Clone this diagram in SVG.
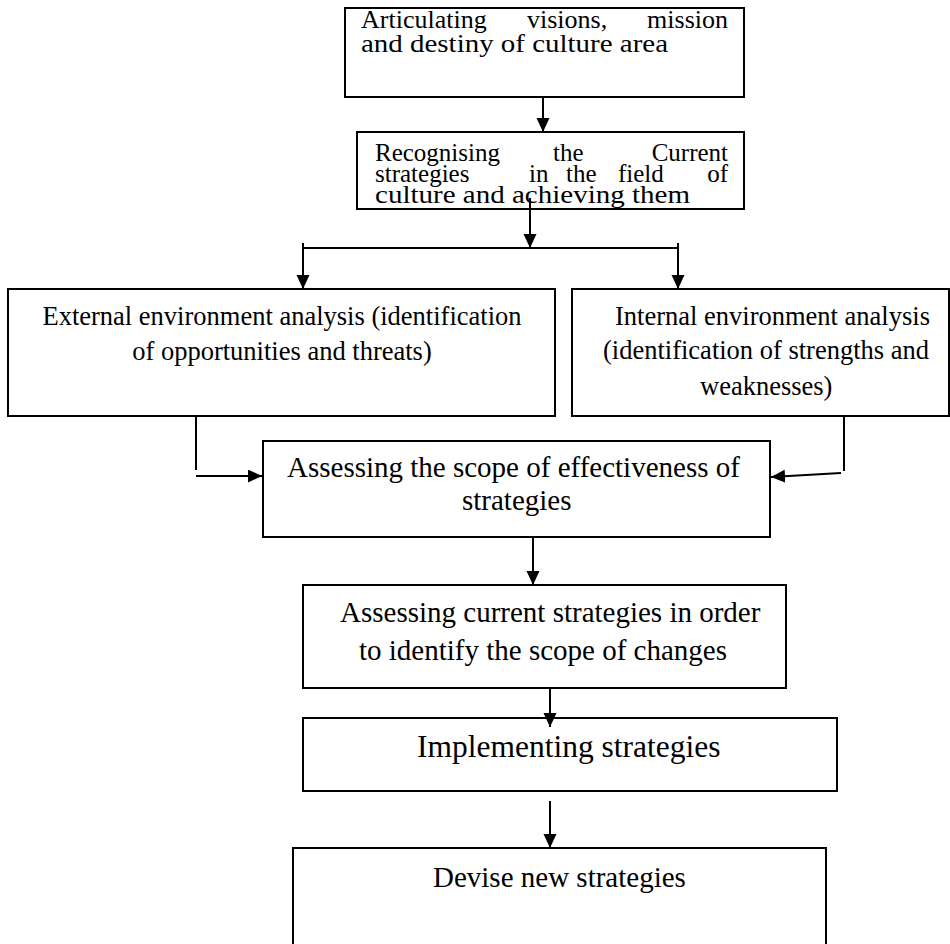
<svg xmlns="http://www.w3.org/2000/svg" width="950" height="944" viewBox="0 0 950 944">
<style>
.box{fill:#fff;stroke:#000;stroke-width:2}
.t{font-family:"Liberation Serif","Times New Roman",serif;fill:#000}
.c{fill:none;stroke:#000;stroke-width:2}
</style>
<defs>
<marker id="ah" markerUnits="userSpaceOnUse" markerWidth="15" markerHeight="14" refX="14" refY="6.5" orient="auto">
<path d="M0,0 L14,6.5 L0,13 z" fill="#000"/>
</marker>
</defs>
<rect width="950" height="944" fill="#fff"/>
<g id="n1">
<rect class="box" x="345" y="8" width="399" height="89"/>
<text class="t" font-size="26"><tspan x="361" y="28">Articulating</tspan><tspan x="527" y="28">visions,</tspan><tspan x="728" y="28" text-anchor="end">mission</tspan></text>
<text class="t" font-size="26" x="361" y="52" textLength="307" lengthAdjust="spacingAndGlyphs">and destiny of culture area</text>
</g>
<g id="n2">
<rect class="box" x="357" y="132" width="387" height="77"/>
<text class="t" font-size="25"><tspan x="375" y="161">Recognising</tspan><tspan x="553" y="161">the</tspan><tspan x="728" y="161" text-anchor="end">Current</tspan></text>
<text class="t" font-size="25"><tspan x="375" y="182">strategies</tspan><tspan x="529" y="182">in</tspan><tspan x="566" y="182">the</tspan><tspan x="618" y="182">field</tspan><tspan x="728" y="182" text-anchor="end">of</tspan></text>
<text class="t" font-size="25" x="375" y="203" textLength="315" lengthAdjust="spacingAndGlyphs">culture and achieving them</text>
</g>
<g id="n3">
<rect class="box" x="8" y="289" width="547" height="127"/>
<text class="t" font-size="26.5" text-anchor="middle"><tspan x="282" y="325">External environment analysis (identification</tspan><tspan x="282" y="360">of opportunities and threats)</tspan></text>
</g>
<g id="n4">
<rect class="box" x="572" y="289" width="377" height="127"/>
<text class="t" font-size="26.5"><tspan x="615" y="325">Internal environment analysis</tspan><tspan x="603" y="359">(identification of strengths and</tspan><tspan x="700" y="395">weaknesses)</tspan></text>
</g>
<g id="n5">
<rect class="box" x="263" y="441" width="507" height="96"/>
<text class="t" font-size="29"><tspan x="287" y="477">Assessing the scope of effectiveness of</tspan><tspan x="462" y="510">strategies</tspan></text>
</g>
<g id="n6">
<rect class="box" x="303" y="585" width="483" height="103"/>
<text class="t" font-size="29"><tspan x="340" y="622">Assessing current strategies in order</tspan><tspan x="359" y="660">to identify the scope of changes</tspan></text>
</g>
<g id="n7">
<rect class="box" x="303" y="718" width="534" height="73"/>
<text class="t" font-size="31.5" x="417" y="757">Implementing strategies</text>
</g>
<g id="n8">
<rect class="box" x="293" y="848" width="533" height="110"/>
<text class="t" font-size="29" x="433" y="887">Devise new strategies</text>
</g>
<g id="connectors">
<line class="c" x1="543" y1="97" x2="543" y2="132" marker-end="url(#ah)"/>
<line class="c" x1="530" y1="198" x2="530" y2="248" marker-end="url(#ah)"/>
<line class="c" x1="303" y1="248" x2="678" y2="248"/>
<line class="c" x1="303" y1="243" x2="303" y2="289" marker-end="url(#ah)"/>
<line class="c" x1="678" y1="243" x2="678" y2="289" marker-end="url(#ah)"/>
<line class="c" x1="196" y1="416" x2="196" y2="470"/>
<line class="c" x1="196" y1="476" x2="262" y2="476" marker-end="url(#ah)"/>
<line class="c" x1="844" y1="416" x2="844" y2="471"/>
<line class="c" x1="841" y1="473" x2="771" y2="477" marker-end="url(#ah)"/>
<line class="c" x1="533" y1="537" x2="533" y2="585" marker-end="url(#ah)"/>
<line class="c" x1="550" y1="688" x2="550" y2="727" marker-end="url(#ah)"/>
<line class="c" x1="550" y1="801" x2="550" y2="848" marker-end="url(#ah)"/>
</g>
</svg>
